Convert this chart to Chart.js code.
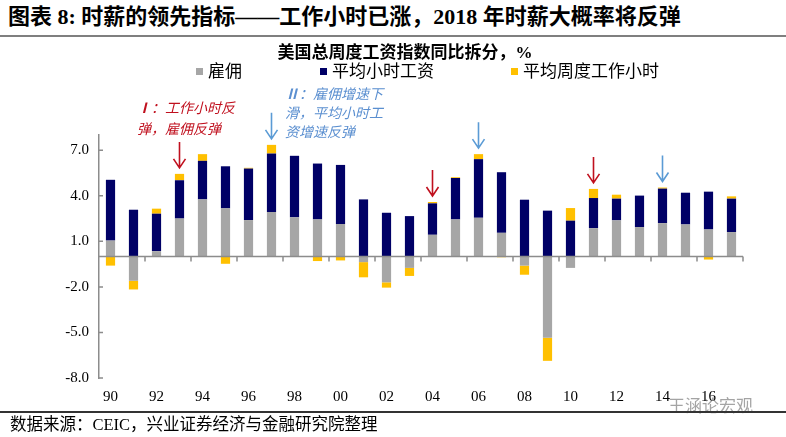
<!DOCTYPE html>
<html>
<head>
<meta charset="utf-8">
<script src="https://cdn.jsdelivr.net/npm/chart.js@4.4.0/dist/chart.umd.min.js"></script>
<style>
    body { margin: 0; background: #fff; }
    #page { position: relative; width: 786px; height: 437px; overflow: hidden; font-family: "Liberation Serif", "Noto Sans CJK SC", serif; color: #000; }
    #graphique { position: absolute; left: 0; top: 0; }
    .abs { position: absolute; white-space: nowrap; }
    .carre { display: inline-block; width: 7px; height: 7px; margin-right: 5px; vertical-align: middle; position: relative; top: -2px; }
    .annot { font-size: 14px; font-style: italic; line-height: 21px; }
</style>
</head>
<body>
<div id="page">
    <div class="abs" style="left:8px; top:3px; font-size:22px; font-weight:bold; line-height:28px;">图表 8: 时薪的领先指标——工作小时已涨，2018 年时薪大概率将反弹</div>
    <div class="abs" style="left:0; top:35px; width:786px; border-top:2px solid #7f7f7f;"></div>

    <canvas id="graphique" width="786" height="437"></canvas>

    <div class="abs" style="left:405px; top:42px; transform:translateX(-50%); font-size:17px; font-weight:bold; line-height:22px;">美国总周度工资指数同比拆分，%</div>
    <div class="abs" style="left:196px; top:61px; font-size:17px; line-height:22px;"><span class="carre" style="background:#A6A6A6"></span>雇佣</div>
    <div class="abs" style="left:320px; top:61px; font-size:17px; line-height:22px;"><span class="carre" style="background:#000066"></span>平均小时工资</div>
    <div class="abs" style="left:511px; top:61px; font-size:17px; line-height:22px;"><span class="carre" style="background:#FFC000"></span>平均周度工作小时</div>

    <div class="abs annot" style="left:137px; top:98px; color:#C0101E;"><b>Ⅰ</b>：工作小时反<br>弹，雇佣反弹</div>
    <div class="abs annot" style="left:285px; top:85px; color:#5B8FD0; line-height:19px;"><b>Ⅱ</b>：雇佣增速下<br>滑，平均小时工<br>资增速反弹</div>

    <div class="abs" style="left:668px; top:392px; font-size:17px; color:rgba(90,90,90,0.55);">王涵论宏观</div>
    <div class="abs" style="left:0; top:411px; width:786px; border-top:2px solid #333;"></div>
    <div class="abs" style="left:10px; top:415px; font-size:16.5px; line-height:20px;">数据来源：CEIC，兴业证券经济与金融研究院整理</div>
</div>

<script>
// annees 1990 -> 2017
const labelsAnnees = ['90','91','92','93','94','95','96','97','98','99','00','01','02','03',
                      '04','05','06','07','08','09','10','11','12','13','14','15','16','17'];

// contributions (points de %)
const emploi = [1.05, -1.6, 0.35, 2.5, 3.76, 3.17, 2.4, 2.93, 2.58, 2.44, 2.14, -0.37, -1.7, -0.75,
                1.43, 2.44, 2.55, 1.56, -0.6, -5.35, -0.75, 1.87, 2.38, 1.94, 2.2, 2.11, 1.78, 1.61];
const salaireHoraire = [4.0, 3.08, 2.47, 2.52, 2.54, 2.77, 3.39, 3.85, 4.05, 3.68, 3.89, 3.76, 2.88, 2.66,
                        2.07, 2.73, 3.86, 3.99, 3.74, 3.02, 2.36, 1.98, 1.43, 2.07, 2.27, 2.09, 2.49, 2.2];
const heuresHebdo = [-0.6, -0.57, 0.33, 0.42, 0.44, -0.48, 0.05, 0.57, 0, -0.3, -0.26, -1.0, -0.35, -0.53,
                     0.09, 0.05, 0.33, -0.05, -0.6, -1.52, 0.83, 0.6, 0.26, 0, 0.07, 0, -0.2, 0.15];

const yTicks = [-8, -5, -2, 1, 4, 7];

// fleches au dessus de certaines barres (index dans labelsAnnees)
const flechesIdx = [3, 7, 14, 16, 21, 24];
const flechesCouleur = ['#C0101E', '#5B9BD5', '#C0101E', '#5B9BD5', '#C0101E', '#5B9BD5'];

const axesPerso = {
    id: 'axesPerso',
    afterDatasetsDraw(chart) {
        const ctx = chart.ctx;
        const xS = chart.scales.x;
        const yS = chart.scales.y;
        const area = chart.chartArea;
        const y0 = yS.getPixelForValue(0);

        ctx.save();
        ctx.strokeStyle = '#8c8c8c';
        ctx.lineWidth = 1.5;
        ctx.beginPath();
        // ligne du zero
        ctx.moveTo(area.left, y0);
        ctx.lineTo(area.right, y0);
        // petits traits tous les 2 ans
        for (let i = 1; i < labelsAnnees.length; i += 2) {
            const x = i + 1 < labelsAnnees.length
                ? (xS.getPixelForValue(i) + xS.getPixelForValue(i + 1)) / 2
                : area.right;
            ctx.moveTo(x, y0);
            ctx.lineTo(x, y0 + 5);
        }
        // graduations de l'axe y vers l'interieur
        yTicks.forEach(v => {
            const y = yS.getPixelForValue(v);
            ctx.moveTo(area.left, y);
            ctx.lineTo(area.left + 4, y);
        });
        ctx.stroke();

        flechesIdx.forEach((idx, k) => {
            const haut = [emploi, salaireHoraire, heuresHebdo].reduce((s, arr) => s + Math.max(arr[idx], 0), 0);
            const x = xS.getPixelForValue(idx);
            const yBas = yS.getPixelForValue(haut) - 6;
            const yHaut = yBas - 26;
            ctx.strokeStyle = flechesCouleur[k];
            ctx.lineWidth = 1.6;
            ctx.beginPath();
            ctx.moveTo(x, yHaut);
            ctx.lineTo(x, yBas);
            ctx.moveTo(x - 6, yBas - 9);
            ctx.lineTo(x, yBas);
            ctx.lineTo(x + 6, yBas - 9);
            ctx.stroke();
        });
        ctx.restore();
    }
};

const ctx = document.getElementById('graphique').getContext('2d');

const data = {
    labels: labelsAnnees,
    datasets: [
        { label: '雇佣', data: emploi, backgroundColor: '#A6A6A6' },
        { label: '平均小时工资', data: salaireHoraire, backgroundColor: '#000066' },
        { label: '平均周度工作小时', data: heuresHebdo, backgroundColor: '#FFC000' }
    ]
};

const options = {
    responsive: false,
    animation: false,
    layout: { padding: { left: 49, right: 43, top: 135, bottom: 19 } },
    datasets: { bar: { categoryPercentage: 1.0, barPercentage: 0.4 } },
    plugins: { legend: { display: false }, tooltip: { enabled: false } },
    scales: {
        x: {
            stacked: true,
            grid: { display: false, drawTicks: false },
            border: { display: false },
            afterFit: scale => { scale.height = 40; },
            ticks: {
                autoSkip: false,
                maxRotation: 0,
                padding: 10,
                color: '#000',
                font: { family: 'Liberation Serif', size: 15 },
                callback: function (val, index) {
                    return index % 2 === 0 ? labelsAnnees[index] : '';
                }
            }
        },
        y: {
            stacked: true,
            min: -8,
            max: 8,
            grid: { display: false, drawTicks: false },
            border: { display: true, color: '#8c8c8c', width: 1.5 },
            afterFit: scale => { scale.width = 50; },
            afterBuildTicks: scale => { scale.ticks = yTicks.map(v => ({ value: v })); },
            ticks: {
                padding: 10,
                color: '#000',
                font: { family: 'Liberation Serif', size: 15 },
                callback: v => v.toFixed(1)
            }
        }
    }
};

new Chart(ctx, {
    type: 'bar',
    data: data,
    options: options,
    plugins: [axesPerso]
});
</script>
</body>
</html>
